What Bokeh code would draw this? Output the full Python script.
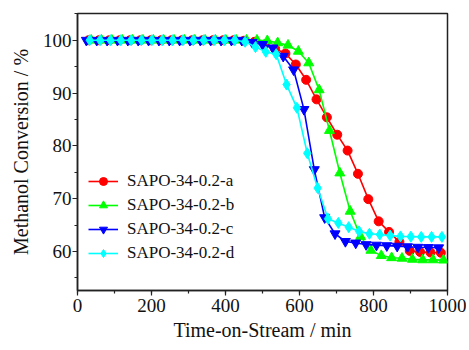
from bokeh.plotting import figure
from bokeh.models import Range1d, SingleIntervalTicker, Legend, LegendItem
from bokeh.embed import file_html
from bokeh.resources import INLINE

# ---- data ----
t_a = [30, 58, 86, 114, 142, 170, 198, 226, 254, 282, 310, 338, 366, 394, 422,
       450, 478, 506, 534, 562, 590, 618, 646, 674, 702, 730, 758, 786, 814, 842,
       870, 898, 926, 954, 982]
y_a = [100, 100, 100, 100, 100, 100, 100, 100, 100, 100, 100, 100, 100, 100, 100,
       99.9, 99.7, 99.2, 98.4, 97.5, 95.4, 92.5, 88.8, 85.4, 82.1, 79.1, 74.7, 69.9,
       65.7, 63.7, 61.8, 60.1, 59.9, 59.8, 59.75]

t_b = [37, 65, 93, 121, 149, 177, 205, 233, 261, 289, 317, 345, 373, 401, 429,
       457, 485, 513, 541, 569, 597, 625, 653, 681, 709, 737, 765, 793, 821, 849,
       877, 905, 933, 961, 989]
y_b = [100, 100, 100, 100, 100, 100, 100, 100, 100, 100, 100, 100, 100, 100, 100,
       100, 100, 99.9, 99.5, 99.05, 97.9, 95.7, 90.6, 82.9, 74.85, 67.6, 62.8, 60.2,
       59.2, 58.8, 58.7, 58.5, 58.4, 58.4, 58.35]

t_c = [24, 52, 80, 108, 136, 164, 192, 220, 248, 276, 304, 332, 360, 388, 416,
       444, 472, 500, 528, 556, 584, 612, 640, 668, 696, 724, 752, 780, 808, 836,
       864, 892, 920, 948, 976]
y_c = [100, 100, 100, 100, 100, 100, 100, 100, 100, 100, 100, 100, 100, 100, 100,
       100, 99.6, 99.2, 98.55, 96.97, 94.4, 86.9, 75.5, 66.4, 63.35, 61.9, 61.6, 61.3,
       61.2, 61.1, 61.0, 60.9, 60.8, 60.75, 60.7]

t_d = [33, 61, 89, 117, 145, 173, 201, 229, 257, 285, 313, 341, 369, 397, 425,
       453, 481, 509, 537, 565, 593, 621, 649, 677, 705, 733, 761, 789, 817, 845,
       873, 901, 929, 957, 985]
y_d = [100, 100, 100, 100, 100, 100, 100, 100, 100, 100, 100, 100, 100, 100, 100,
       99.7, 98.7, 97.8, 97.35, 91.6, 87.2, 78.6, 72.0, 66.2, 65.4, 64.6, 63.8, 63.35,
       63.2, 63.0, 62.85, 62.8, 62.75, 62.75, 62.75]

labels = ["SAPO-34-0.2-a", "SAPO-34-0.2-b", "SAPO-34-0.2-c", "SAPO-34-0.2-d"]
colors = ["#FF0000", "#00FF00", "#0000FF", "#00FFFF"]
markers = ["circle", "triangle", "inverted_triangle", "diamond"]
msizes = [9, 10, 10, 11]

FONT = "'Liberation Serif', 'Times New Roman', serif"

W, H = 466, 345
p = figure(width=W, height=H, output_backend="svg", toolbar_location=None,
           x_range=Range1d(0, 1000), y_range=Range1d(52.6, 105.06),
           min_border_left=77, min_border_right=W - 447,
           min_border_top=13, min_border_bottom=H - 290)
p.background_fill_color = "white"
p.border_fill_color = "white"
p.outline_line_color = "#222222"
p.outline_line_width = 1.5
p.grid.visible = False

p.xaxis.ticker = SingleIntervalTicker(interval=200, num_minor_ticks=2)
p.yaxis.ticker = SingleIntervalTicker(interval=10, num_minor_ticks=2)
p.xaxis.axis_label = "Time-on-Stream / min"
p.yaxis.axis_label = "Methanol Conversion / %"

p.axis.axis_line_color = "#222222"
p.axis.axis_line_width = 1.5
p.axis.major_tick_line_color = "#222222"
p.axis.minor_tick_line_color = "#222222"
p.axis.major_tick_line_width = 1.2
p.axis.minor_tick_line_width = 1.2
p.axis.major_tick_in = 0
p.axis.major_tick_out = 5
p.axis.minor_tick_in = 0
p.axis.minor_tick_out = 3
p.axis.major_label_text_font = FONT
p.axis.major_label_text_font_size = "19px"
p.axis.major_label_text_color = "#111111"
p.axis.axis_label_text_font = FONT
p.axis.axis_label_text_font_size = "20px"
p.axis.axis_label_text_font_style = "normal"
p.axis.axis_label_text_color = "#111111"
p.xaxis.major_label_standoff = 3
p.xaxis.axis_label_standoff = 4
p.yaxis.major_label_standoff = 1
p.yaxis.axis_label_standoff = 8

items = []
for t, y, lab, c, m, s in zip([t_a, t_b, t_c, t_d], [y_a, y_b, y_c, y_d],
                              labels, colors, markers, msizes):
    ln = p.line(t, y, line_color=c, line_width=1.6)
    sc = p.scatter(t, y, marker=m, size=s, fill_color=c, line_color=c)
    items.append(LegendItem(label=lab, renderers=[ln, sc]))

leg = Legend(items=items, location=(11, 27))
leg.label_text_font = FONT
leg.label_text_font_size = "17px"
leg.label_text_color = "#111111"
leg.glyph_width = 30
leg.glyph_height = 20
leg.label_height = 20
leg.spacing = 4
leg.label_standoff = 9
leg.padding = 0
leg.margin = 0
leg.border_line_color = None
leg.background_fill_alpha = 0
p.add_layout(leg)

open("out.html", "w").write(file_html(p, INLINE))
